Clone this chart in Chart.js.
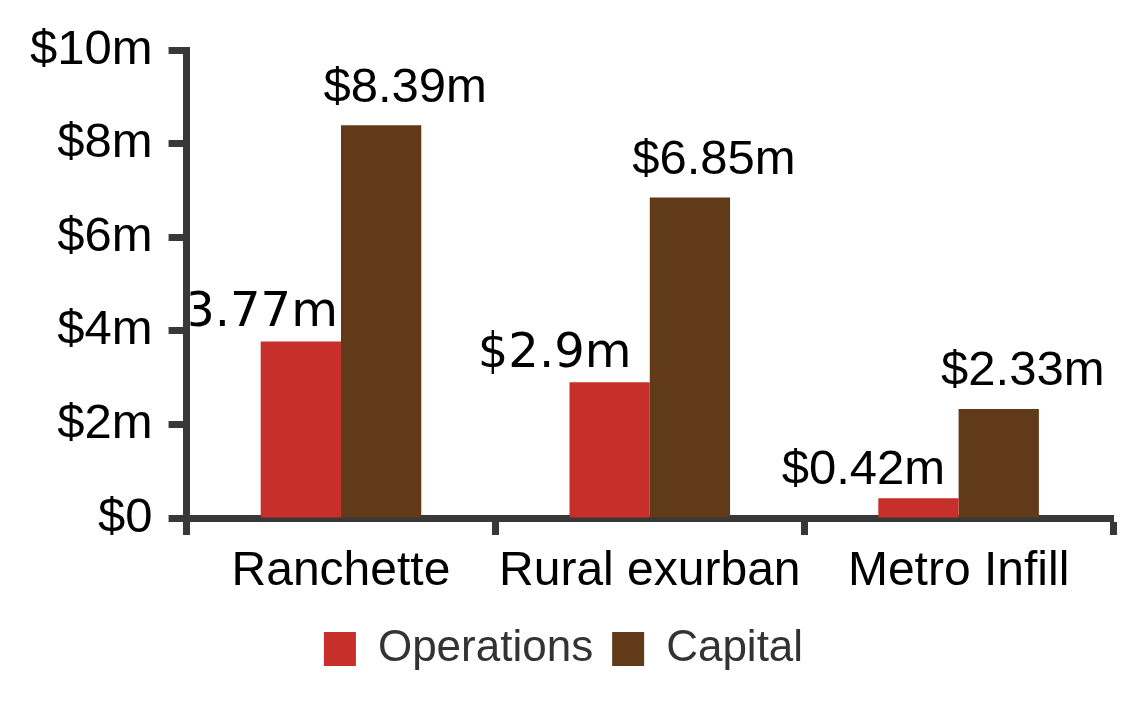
<!DOCTYPE html>
<html>
<head>
<meta charset="utf-8">
<script src="https://cdn.jsdelivr.net/npm/chart.js@4.4.1/dist/chart.umd.min.js"></script>
<style>
html,body{margin:0;padding:0;background:#fff;}
#wrap{width:1128px;height:719px;position:relative;}
</style>
</head>
<body>
<div id="wrap"><canvas id="c" width="1128" height="719"></canvas></div>
<script>
const categories = ['Ranchette', 'Rural exurban', 'Metro Infill'];
const operations = [3.77, 2.9, 0.42];
const capital = [8.39, 6.85, 2.33];
const operationsLabels = ['$3.77m', '$2.9m', '$0.42m'];
const capitalLabels = ['$8.39m', '$6.85m', '$2.33m'];
const yTicks = [0, 2, 4, 6, 8, 10];

const FONT = "'Liberation Sans', Arial, sans-serif";
const ALT_FONT = "'DejaVu Sans', sans-serif";
const AXIS = '#383838';

// label fonts as they appear in the reference (two labels use a wider face)
const operationsLabelFonts = ['48px ' + ALT_FONT, '48px ' + ALT_FONT, '49px ' + FONT];
const capitalLabelFonts = ['49px ' + FONT, '49px ' + FONT, '49px ' + FONT];

const valueLabels = {
  id: 'valueLabels',
  afterDatasetsDraw(chart) {
    const ctx = chart.ctx;
    const area = chart.chartArea;
    const cfg = [
      {labels: operationsLabels, fonts: operationsLabelFonts, dx: -55, dy: -28},
      {labels: capitalLabels, fonts: capitalLabelFonts, dx: 24, dy: -37}
    ];
    ctx.save();
    ctx.beginPath();
    ctx.rect(area.left + 4, 0, chart.width, chart.height);
    ctx.clip();
    ctx.fillStyle = '#000';
    ctx.textAlign = 'center';
    ctx.textBaseline = 'middle';
    chart.data.datasets.forEach((ds, i) => {
      const meta = chart.getDatasetMeta(i);
      meta.data.forEach((bar, j) => {
        ctx.font = cfg[i].fonts[j];
        ctx.fillText(cfg[i].labels[j], bar.x + cfg[i].dx, bar.y + cfg[i].dy);
      });
    });
    ctx.restore();
  }
};

new Chart(document.getElementById('c'), {
  type: 'bar',
  data: {
    labels: categories,
    datasets: [
      {label: 'Operations', data: operations, backgroundColor: '#c62f2a', barPercentage: 1, categoryPercentage: 0.52},
      {label: 'Capital', data: capital, backgroundColor: '#613a19', barPercentage: 1, categoryPercentage: 0.52}
    ]
  },
  options: {
    responsive: false,
    animation: false,
    devicePixelRatio: 1,
    layout: {padding: {left: 14, right: 15, top: 50, bottom: 38}},
    plugins: {
      tooltip: {enabled: false},
      legend: {
        position: 'bottom',
        labels: {
          boxWidth: 32, boxHeight: 34, padding: 19,
          color: '#333',
          font: {family: FONT, size: 44}
        }
      }
    },
    scales: {
      x: {
        grid: {display: true, drawOnChartArea: false, offset: true, tickLength: 17, tickWidth: 7, tickColor: AXIS},
        border: {display: true, width: 7, color: AXIS},
        ticks: {color: '#000', font: {family: FONT, size: 48, lineHeight: 1}, padding: 12.5, maxRotation: 0}
      },
      y: {
        min: 0, max: 10,
        afterBuildTicks(axis) { axis.ticks = yTicks.map(v => ({value: v})); },
        grid: {display: true, drawOnChartArea: false, tickLength: 18, tickWidth: 7, tickColor: AXIS},
        border: {display: true, width: 7, color: AXIS},
        ticks: {color: '#000', font: {family: FONT, size: 49}, padding: 16,
          callback: v => v === 0 ? '$0' : '$' + v + 'm'}
      }
    }
  },
  plugins: [valueLabels]
});
</script>
</body>
</html>
